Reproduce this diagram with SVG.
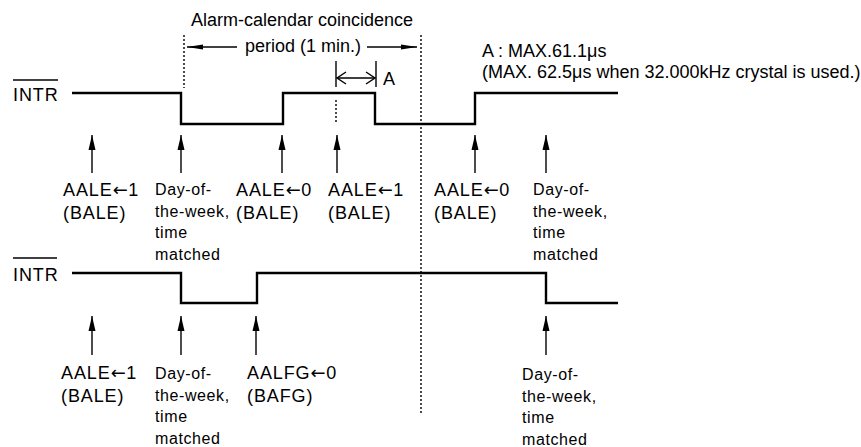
<svg xmlns="http://www.w3.org/2000/svg" width="861" height="447" viewBox="0 0 861 447">
<style>
text{font-family:"Liberation Sans",Arial,sans-serif;fill:#000}
.big{font-size:18px}
.lbl{font-size:18px;letter-spacing:0.9px}
.ar{font-family:"DejaVu Sans",sans-serif;font-size:18px;letter-spacing:0.5px}
.sm{font-size:16px;letter-spacing:0.6px}
.wave{fill:none;stroke:#000;stroke-width:2.4}
.dot{fill:none;stroke:#000;stroke-width:1.4;stroke-dasharray:2 2}
.arr{fill:none;stroke:#000;stroke-width:1.4}
</style>
<defs>
<marker id="ah" markerUnits="userSpaceOnUse" markerWidth="16" markerHeight="8" refX="15" refY="3.5" orient="auto-start-reverse" viewBox="0 0 16 7">
<path d="M0,0 L15,3.5 L0,7 Z" fill="#000"/>
</marker>
<marker id="ahp" markerUnits="userSpaceOnUse" markerWidth="17" markerHeight="7" refX="16" refY="3" orient="auto-start-reverse" viewBox="0 0 17 6">
<path d="M0,0.5 L16,3 L0,5.5 Z" fill="#000"/>
</marker>
<marker id="oa" markerUnits="userSpaceOnUse" markerWidth="12" markerHeight="14" refX="10" refY="7" orient="auto-start-reverse" viewBox="0 0 12 14">
<path d="M1,1 L10,7 L1,13" fill="none" stroke="#000" stroke-width="1.4"/>
</marker>
</defs>

<g id="title">
<text class="big" x="191" y="26">Alarm-calendar coincidence</text>
<text class="big" x="245" y="52">period (1 min.)</text>
</g>
<g id="note">
<text class="big" x="482" y="57">A : MAX.61.1μs</text>
<text class="big" x="482" y="78">(MAX. 62.5μs when 32.000kHz crystal is used.)</text>
</g>

<g id="intr1">
<text class="lbl" x="13" y="101">INTR</text>
<line x1="13" y1="80" x2="58" y2="80" stroke="#000" stroke-width="1.4"/>
</g>
<g id="intr2">
<text class="lbl" x="13" y="281">INTR</text>
<line x1="13" y1="258" x2="57" y2="258" stroke="#000" stroke-width="1.4"/>
</g>

<g id="waveforms">
<polyline class="wave" points="72,93 181,93 181,124 283,124 283,93 375,93 375,124 475,124 475,93 618,93"/>
<polyline class="wave" points="72,273 181,273 181,303 257,303 257,273 546,273 546,303 618,303"/>
</g>

<g id="connectors">
<line class="dot" x1="184" y1="35" x2="184" y2="88"/>
<line class="dot" x1="421" y1="35" x2="421" y2="415"/>
<line class="dot" x1="336" y1="100" x2="336" y2="124"/>
<line class="arr" x1="237" y1="47" x2="187" y2="47" marker-end="url(#ahp)"/>
<line class="arr" x1="367" y1="47" x2="417" y2="47" marker-end="url(#ahp)"/>
<line class="arr" x1="336" y1="61" x2="336" y2="87"/>
<line class="arr" x1="376" y1="61" x2="376" y2="87"/>
<line class="arr" x1="337" y1="78" x2="375" y2="78" marker-start="url(#oa)" marker-end="url(#oa)"/>
<line class="arr" x1="92" y1="173" x2="92" y2="135" marker-end="url(#ah)"/>
<line class="arr" x1="181" y1="173" x2="181" y2="135" marker-end="url(#ah)"/>
<line class="arr" x1="282" y1="173" x2="282" y2="135" marker-end="url(#ah)"/>
<line class="arr" x1="337" y1="173" x2="337" y2="135" marker-end="url(#ah)"/>
<line class="arr" x1="475" y1="173" x2="475" y2="135" marker-end="url(#ah)"/>
<line class="arr" x1="546" y1="173" x2="546" y2="135" marker-end="url(#ah)"/>
<line class="arr" x1="92" y1="355" x2="92" y2="316" marker-end="url(#ah)"/>
<line class="arr" x1="181" y1="355" x2="181" y2="316" marker-end="url(#ah)"/>
<line class="arr" x1="256" y1="355" x2="256" y2="316" marker-end="url(#ah)"/>
<line class="arr" x1="546" y1="355" x2="546" y2="316" marker-end="url(#ah)"/>
</g>
<text class="big" x="383" y="85">A</text>

<g id="t1"><text class="lbl" x="63" y="196">AALE<tspan class="ar">←</tspan>1</text><text class="lbl" x="63" y="219">(BALE)</text></g>
<g id="t2"><text class="sm"><tspan x="155" y="195">Day-of-</tspan><tspan x="155" y="216.5">the-week,</tspan><tspan x="155" y="238">time</tspan><tspan x="155" y="259.5">matched</tspan></text></g>
<g id="t3"><text class="lbl" x="236" y="196">AALE<tspan class="ar">←</tspan>0</text><text class="lbl" x="236" y="219">(BALE)</text></g>
<g id="t4"><text class="lbl" x="328" y="196">AALE<tspan class="ar">←</tspan>1</text><text class="lbl" x="328" y="219">(BALE)</text></g>
<g id="t5"><text class="lbl" x="434" y="196">AALE<tspan class="ar">←</tspan>0</text><text class="lbl" x="434" y="219">(BALE)</text></g>
<g id="t6"><text class="sm"><tspan x="533" y="195">Day-of-</tspan><tspan x="533" y="216.5">the-week,</tspan><tspan x="533" y="238">time</tspan><tspan x="533" y="259.5">matched</tspan></text></g>

<g id="b1"><text class="lbl" x="61" y="379">AALE<tspan class="ar">←</tspan>1</text><text class="lbl" x="61" y="402">(BALE)</text></g>
<g id="b2"><text class="sm"><tspan x="155" y="379">Day-of-</tspan><tspan x="155" y="400.5">the-week,</tspan><tspan x="155" y="422">time</tspan><tspan x="155" y="443.5">matched</tspan></text></g>
<g id="b3"><text class="lbl" x="247" y="379">AALFG<tspan class="ar">←</tspan>0</text><text class="lbl" x="247" y="402">(BAFG)</text></g>
<g id="b4"><text class="sm"><tspan x="522" y="380">Day-of-</tspan><tspan x="522" y="401.5">the-week,</tspan><tspan x="522" y="423">time</tspan><tspan x="522" y="444.5">matched</tspan></text></g>
</svg>
